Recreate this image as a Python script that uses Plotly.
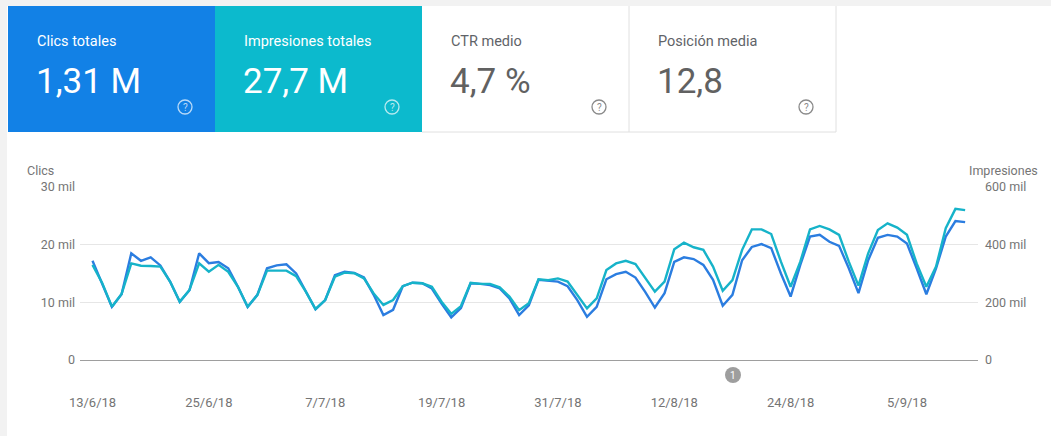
import pandas as pd
import plotly.graph_objects as go

# Daily performance, 13/6/18 – 11/9/18
start_date = "2018-06-13"
clicks = [
    17.2, 13.3, 9.2, 11.4, 18.5, 17.2, 17.8, 16.4, 13.6, 10.1, 12.1, 18.5, 16.8,
    17.0, 15.9, 12.7, 9.2, 11.3, 15.9, 16.4, 16.6, 15.0, 11.8, 8.8, 10.4, 14.7,
    15.3, 15.1, 14.3, 11.3, 7.8, 8.7, 12.8, 13.4, 13.3, 12.4, 9.8, 7.4, 9.0,
    13.3, 13.2, 13.0, 12.4, 10.7, 7.8, 9.5, 13.9, 13.7, 13.6, 12.8, 10.4, 7.5,
    9.2, 14.0, 14.9, 15.3, 14.3, 11.8, 9.1, 11.6, 17.0, 17.8, 17.5, 16.5, 13.9,
    9.4, 11.3, 17.3, 19.6, 20.1, 19.4, 15.0, 11.0, 16.5, 21.4, 21.7, 20.5, 19.8,
    15.9, 11.6, 17.3, 21.2, 21.7, 21.4, 20.2, 15.9, 11.4, 15.9, 21.4, 24.1, 23.9,
]  # thousands
impressions = [
    330, 267, 185, 229, 335, 327, 326, 324, 272, 202, 243, 335, 306,
    330, 306, 254, 185, 225, 310, 310, 310, 291, 237, 177, 208, 289,
    303, 301, 283, 231, 191, 208, 256, 268, 266, 254, 202, 160, 187,
    268, 264, 264, 252, 220, 173, 197, 280, 277, 283, 272, 225, 179,
    214, 312, 335, 344, 333, 283, 237, 272, 384, 407, 391, 382, 324,
    240, 277, 382, 453, 453, 437, 341, 254, 341, 453, 465, 453, 434,
    341, 258, 370, 451, 474, 459, 434, 335, 254, 324, 457, 524, 520,
]  # thousands

dates = pd.date_range(start_date, periods=len(clicks), freq="D")

x_tick_dates = ["2018-06-13", "2018-06-25", "2018-07-07", "2018-07-19",
                "2018-07-31", "2018-08-12", "2018-08-24", "2018-09-05"]
x_tick_labels = ["13/6/18", "25/6/18", "7/7/18", "19/7/18",
                 "31/7/18", "12/8/18", "24/8/18", "5/9/18"]
clicks_ticks = [0, 10000, 20000, 30000]
clicks_tick_labels = ["0", "10 mil", "20 mil", "30 mil"]
impr_ticks = [0, 200000, 400000, 600000]
impr_tick_labels = ["0", "200 mil", "400 mil", "600 mil"]

cards = [
    {"title": "Clics totales", "value": "1,31 M"},
    {"title": "Impresiones totales", "value": "27,7 M"},
    {"title": "CTR medio", "value": "4,7 %"},
    {"title": "Posición media", "value": "12,8"},
]

W, H = 1051, 436
FONT = "Roboto, Arial, sans-serif"
BLUE_CARD = "#1281e6"
TEAL_CARD = "#0cbacd"
CLICK_LINE = "#2b7de0"
IMPR_LINE = "#16b3c9"
GRAY_TXT = "#757575"


def px(x):
    return x / W


def py(y):
    return 1 - y / H


fig = go.Figure()

fig.add_trace(go.Scatter(
    x=dates, y=[v * 1000 for v in impressions], yaxis="y2", mode="lines",
    line=dict(color=IMPR_LINE, width=2.4), name="Impresiones", hoverinfo="skip",
))
fig.add_trace(go.Scatter(
    x=dates, y=[v * 1000 for v in clicks], yaxis="y", mode="lines",
    line=dict(color=CLICK_LINE, width=2.4), name="Clics", hoverinfo="skip",
))

# plot area in pixels
left, right, top, bottom = 80, 978, 187, 360
px_per_day = 9.696
first_px = 92.5
d0 = pd.Timestamp(start_date)
x_start = d0 - pd.Timedelta(days=(first_px - left) / px_per_day)
x_end = d0 + pd.Timedelta(days=(right - first_px) / px_per_day)

shapes = []
annotations = []

# page background bands
shapes.append(dict(type="rect", xref="paper", yref="paper", x0=0, x1=1,
                   y0=py(6), y1=1, fillcolor="#f2f2f2", line_width=0, layer="below"))
shapes.append(dict(type="rect", xref="paper", yref="paper", x0=0, x1=px(7),
                   y0=0, y1=1, fillcolor="#f2f2f2", line_width=0, layer="below"))

card_x = [(8, 215), (215, 422), (422, 629), (629, 836)]
card_fill = [BLUE_CARD, TEAL_CARD, "#ffffff", "#ffffff"]
for i, card in enumerate(cards):
    x0, x1 = card_x[i]
    colored = i < 2
    shapes.append(dict(type="rect", xref="paper", yref="paper",
                       x0=px(x0), x1=px(x1), y0=py(132), y1=py(6),
                       fillcolor=card_fill[i], line_width=0, layer="below"))
    title_col = "#ffffff" if colored else "#5f6368"
    value_col = "#ffffff" if colored else "#616161"
    icon_col = "rgba(255,255,255,0.7)" if colored else "#8a8a8a"
    annotations.append(dict(xref="paper", yref="paper", x=px(x0 + 27), y=py(42),
                            xanchor="left", yanchor="middle", showarrow=False,
                            text=card["title"],
                            font=dict(family=FONT, size=14.5, color=title_col)))
    annotations.append(dict(xref="paper", yref="paper", x=px(x0 + 26), y=py(82),
                            xanchor="left", yanchor="middle", showarrow=False,
                            text=card["value"],
                            font=dict(family=FONT, size=35, color=value_col)))
    cx, cy, r = x0 + 177, 107, 7
    shapes.append(dict(type="circle", xref="paper", yref="paper",
                       x0=px(cx - r), x1=px(cx + r), y0=py(cy + r), y1=py(cy - r),
                       line=dict(color=icon_col, width=1.3)))
    annotations.append(dict(xref="paper", yref="paper", x=px(cx), y=py(cy),
                            xanchor="center", yanchor="middle", showarrow=False,
                            text="?", font=dict(family=FONT, size=10, color=icon_col)))

# borders of the white cards
for xb in (629, 836):
    shapes.append(dict(type="line", xref="paper", yref="paper",
                       x0=px(xb), x1=px(xb), y0=py(132), y1=py(6),
                       line=dict(color="#e0e0e0", width=1)))
shapes.append(dict(type="line", xref="paper", yref="paper",
                   x0=px(422), x1=px(836), y0=py(132), y1=py(132),
                   line=dict(color="#e0e0e0", width=1)))

# axis titles
annotations.append(dict(xref="paper", yref="paper", x=px(25), y=py(170),
                        xanchor="left", yanchor="middle", showarrow=False,
                        text="Clics", font=dict(family=FONT, size=12.5, color=GRAY_TXT)))
annotations.append(dict(xref="paper", yref="paper", x=px(1040), y=py(170),
                        xanchor="right", yanchor="middle", showarrow=False,
                        text="Impresiones", font=dict(family=FONT, size=12.5, color=GRAY_TXT)))

# event marker below the axis
mx, my, mr = 733, 375, 8
shapes.append(dict(type="circle", xref="paper", yref="paper",
                   x0=px(mx - mr), x1=px(mx + mr), y0=py(my + mr), y1=py(my - mr),
                   fillcolor="#9e9e9e", line_width=0))
annotations.append(dict(xref="paper", yref="paper", x=px(mx), y=py(my),
                        xanchor="center", yanchor="middle", showarrow=False,
                        text="1", font=dict(family=FONT, size=10, color="#ffffff")))

fig.update_layout(
    width=W, height=H, autosize=False,
    margin=dict(l=0, r=0, t=0, b=0, pad=0, autoexpand=False),
    paper_bgcolor="#ffffff", plot_bgcolor="#ffffff",
    showlegend=False,
    font=dict(family=FONT, color=GRAY_TXT, size=12.5),
    shapes=shapes, annotations=annotations,
    xaxis=dict(
        domain=[px(left), px(right)], type="date", automargin=False,
        range=[x_start, x_end],
        tickvals=x_tick_dates, ticktext=x_tick_labels,
        ticks="", ticklabelstandoff=30, showgrid=False,
        showline=True, linecolor="#9e9e9e", linewidth=1,
        tickfont=dict(size=13, color=GRAY_TXT), zeroline=False,
    ),
    yaxis=dict(
        domain=[py(bottom), py(top)], range=[0, 30000], automargin=False,
        tickvals=clicks_ticks, ticktext=clicks_tick_labels,
        ticks="", ticklabelstandoff=4,
        showgrid=True, gridcolor="#e6e6e6", gridwidth=1, zeroline=False,
        tickfont=dict(size=12.5, color=GRAY_TXT),
    ),
    yaxis2=dict(
        domain=[py(bottom), py(top)], range=[0, 600000], overlaying="y", side="right",
        automargin=False,
        tickvals=impr_ticks, ticktext=impr_tick_labels,
        ticks="", ticklabelstandoff=6,
        showgrid=False, zeroline=False,
        tickfont=dict(size=12.5, color=GRAY_TXT),
    ),
)

fig.write_html("out.html", config={"displayModeBar": False})
